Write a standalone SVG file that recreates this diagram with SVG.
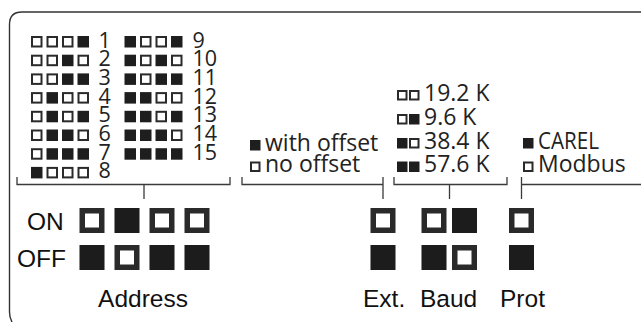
<svg xmlns="http://www.w3.org/2000/svg" width="641" height="322" viewBox="0 0 641 322">
  <defs>
    <style>
      .frame { fill: none; stroke: #333; stroke-width: 1.4; }
      .br { fill: none; stroke: #3a3a3a; stroke-width: 1.3; }
      .lg { font-family: "Open Sans", "Noto Sans", sans-serif; font-size: 23px; fill: #222; }
      .num { font-size: 21.5px; }
      .lb { font-family: "Liberation Sans", Arial, sans-serif; font-size: 24.5px; fill: #111; }
      .f { fill: #1e1e1e; }
      .h { fill: #fff; stroke: #2a2a2a; stroke-width: 2; }
      .swf { fill: #1c1c1c; }
      .swh { fill: #fff; stroke: #2b2b2b; stroke-width: 5.5; }
    </style>
    <filter id="soft" x="-20%" y="-20%" width="140%" height="140%">
      <feGaussianBlur stdDeviation="0.6"/>
    </filter>
    <!-- address legend squares: filled / hollow -->
    <rect id="sf" class="f" width="11.5" height="11.5"/>
    <rect id="sh" class="h" x="1" y="1" width="9.5" height="9.5"/>
    <!-- smaller squares for the option legends -->
    <rect id="tf" class="f" width="10.5" height="10.5"/>
    <rect id="th" class="h" x="1" y="1" width="8.5" height="8.5"/>
    <!-- DIP switch states: solid / hollow -->
    <rect id="kf" class="swf" width="25" height="25"/>
    <rect id="kh" class="swh" x="2.75" y="2.75" width="19.5" height="19.5"/>
  </defs>

  <rect width="641" height="322" fill="#fff"/>

  <!-- outer frame, open on the right -->
  <path class="frame" d="M641 12 H22 Q9.5 12 9.5 24.5 V312 Q9.5 318 12 322"/>

  <!-- address table: squares give the four switch positions -->
  <g id="addr-table">
    <g transform="translate(31,36)"><use href="#sh"/><use href="#sh" x="15.5"/><use href="#sh" x="31"/><use href="#sf" x="46.5"/></g>
    <g transform="translate(31,54.7)"><use href="#sh"/><use href="#sh" x="15.5"/><use href="#sf" x="31"/><use href="#sh" x="46.5"/></g>
    <g transform="translate(31,73.4)"><use href="#sh"/><use href="#sh" x="15.5"/><use href="#sf" x="31"/><use href="#sf" x="46.5"/></g>
    <g transform="translate(31,92.1)"><use href="#sh"/><use href="#sf" x="15.5"/><use href="#sh" x="31"/><use href="#sh" x="46.5"/></g>
    <g transform="translate(31,110.8)"><use href="#sh"/><use href="#sf" x="15.5"/><use href="#sh" x="31"/><use href="#sf" x="46.5"/></g>
    <g transform="translate(31,129.5)"><use href="#sh"/><use href="#sf" x="15.5"/><use href="#sf" x="31"/><use href="#sh" x="46.5"/></g>
    <g transform="translate(31,148.2)"><use href="#sh"/><use href="#sf" x="15.5"/><use href="#sf" x="31"/><use href="#sf" x="46.5"/></g>
    <g transform="translate(31,166.9)"><use href="#sf"/><use href="#sh" x="15.5"/><use href="#sh" x="31"/><use href="#sh" x="46.5"/></g>
    <g transform="translate(124.5,36)"><use href="#sf"/><use href="#sh" x="15.5"/><use href="#sh" x="31"/><use href="#sf" x="46.5"/></g>
    <g transform="translate(124.5,54.7)"><use href="#sf"/><use href="#sh" x="15.5"/><use href="#sf" x="31"/><use href="#sh" x="46.5"/></g>
    <g transform="translate(124.5,73.4)"><use href="#sf"/><use href="#sh" x="15.5"/><use href="#sf" x="31"/><use href="#sf" x="46.5"/></g>
    <g transform="translate(124.5,92.1)"><use href="#sf"/><use href="#sf" x="15.5"/><use href="#sh" x="31"/><use href="#sh" x="46.5"/></g>
    <g transform="translate(124.5,110.8)"><use href="#sf"/><use href="#sf" x="15.5"/><use href="#sh" x="31"/><use href="#sf" x="46.5"/></g>
    <g transform="translate(124.5,129.5)"><use href="#sf"/><use href="#sf" x="15.5"/><use href="#sf" x="31"/><use href="#sh" x="46.5"/></g>
    <g transform="translate(124.5,148.2)"><use href="#sf"/><use href="#sf" x="15.5"/><use href="#sf" x="31"/><use href="#sf" x="46.5"/></g>
    <text class="lg num"><tspan x="98.5" y="47.5">1</tspan><tspan x="98.5" y="66.2">2</tspan><tspan x="98.5" y="84.9">3</tspan><tspan x="98.5" y="103.6">4</tspan><tspan x="98.5" y="122.3">5</tspan><tspan x="98.5" y="141">6</tspan><tspan x="98.5" y="159.7">7</tspan><tspan x="98.5" y="178.4">8</tspan></text>
    <text class="lg num"><tspan x="192.5" y="47.5">9</tspan><tspan x="192.5" y="66.2">10</tspan><tspan x="192.5" y="84.9">11</tspan><tspan x="192.5" y="103.6">12</tspan><tspan x="192.5" y="122.3">13</tspan><tspan x="192.5" y="141">14</tspan><tspan x="192.5" y="159.7">15</tspan></text>
  </g>

  <!-- extension offset legend -->
  <g id="ext-table">
    <use href="#tf" x="250" y="140"/><use href="#th" x="250" y="161.5"/>
    <text class="lg"><tspan x="265" y="150.5">with offset</tspan><tspan x="265" y="172">no offset</tspan></text>
  </g>

  <!-- baud rate legend -->
  <g id="baud-table">
    <use href="#th" x="397" y="90"/><use href="#th" x="409" y="90"/>
    <use href="#th" x="397" y="114"/><use href="#tf" x="409" y="114"/>
    <use href="#tf" x="397" y="138"/><use href="#th" x="409" y="138"/>
    <use href="#tf" x="397" y="161.5"/><use href="#tf" x="409" y="161.5"/>
    <text class="lg"><tspan x="424" y="100.5">19.2 K</tspan><tspan x="424" y="124.5">9.6 K</tspan><tspan x="424" y="148.5">38.4 K</tspan><tspan x="424" y="172">57.6 K</tspan></text>
  </g>

  <!-- protocol legend -->
  <g id="prot-table">
    <use href="#tf" x="523" y="138"/><use href="#th" x="523" y="161.5"/>
    <text class="lg"><tspan x="538" y="148.5" textLength="61" lengthAdjust="spacingAndGlyphs">CAREL</tspan><tspan x="538" y="172">Modbus</tspan></text>
  </g>

  <!-- brackets linking each legend to its switches -->
  <g id="connectors" class="br">
    <path d="M17 177 V184.5 H230 V177 M144 184.5 V199"/>
    <path d="M242 177 V184.5 H383 M383 177 V199"/>
    <path d="M394 177 V184.5 H507 V177 M449.5 184.5 V199"/>
    <path d="M521.5 177 V199 M521.5 184.5 H641"/>
  </g>

  <!-- DIP switches -->
  <g id="sw-address" filter="url(#soft)">
    <use href="#kh" x="79.5" y="208"/><use href="#kf" x="114.5" y="208"/><use href="#kh" x="149.5" y="208"/><use href="#kh" x="184.5" y="208"/>
    <use href="#kf" x="79.5" y="245"/><use href="#kh" x="114.5" y="245"/><use href="#kf" x="149.5" y="245"/><use href="#kf" x="184.5" y="245"/>
  </g>
  <g id="sw-ext" filter="url(#soft)">
    <use href="#kh" x="370.5" y="208"/>
    <use href="#kf" x="370.5" y="245"/>
  </g>
  <g id="sw-baud" filter="url(#soft)">
    <use href="#kh" x="421.5" y="208"/><use href="#kf" x="452" y="208"/>
    <use href="#kf" x="421.5" y="245"/><use href="#kh" x="452" y="245"/>
  </g>
  <g id="sw-prot" filter="url(#soft)">
    <use href="#kh" x="509" y="208"/>
    <use href="#kf" x="509" y="245"/>
  </g>

  <!-- switch labels -->
  <g id="labels" class="lb">
    <text x="27" y="229.5">ON</text>
    <text x="17" y="266.5">OFF</text>
    <text x="143" y="307" text-anchor="middle">Address</text>
    <text x="363" y="307">Ext.</text>
    <text x="420" y="307">Baud</text>
    <text x="500" y="307">Prot</text>
  </g>
</svg>
